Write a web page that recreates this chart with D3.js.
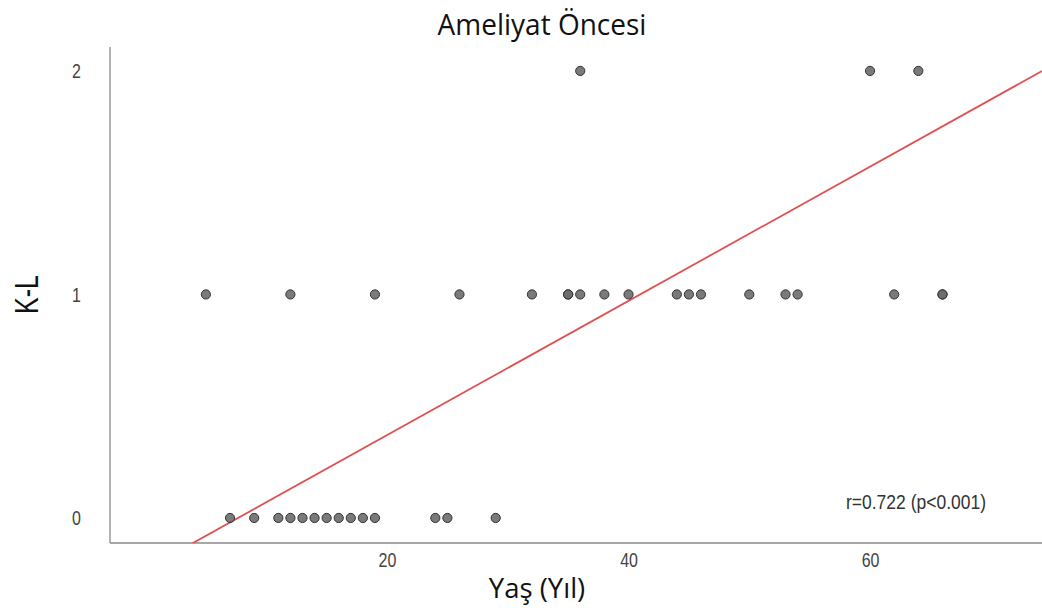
<!DOCTYPE html>
<html>
<head>
<meta charset="utf-8">
<script src="https://cdn.jsdelivr.net/npm/d3@7/dist/d3.min.js"></script>
<style>
  html, body { margin: 0; padding: 0; background: #fff; }
  svg { display: block; }
</style>
</head>
<body>
<svg id="chart" width="1042" height="610"></svg>
<script>
// Age (years) of each case, grouped by K-L grade
const ageGrade0 = [7, 9, 11, 12, 13, 14, 15, 16, 17, 18, 19, 24, 25, 29];
const ageGrade1 = [5, 12, 19, 26, 32, 35, 35, 36, 38, 40, 44, 45, 46, 50, 53, 54, 62, 66, 66];
const ageGrade2 = [36, 60, 64];
const grades = [0, 1, 2];

// Fitted line: K-L = intercept + slope * age
const fitIntercept = -0.230;
const fitSlope = 0.03003;

const xTicks = [20, 40, 60];
const yTicks = [0, 1, 2];
const annotation = "r=0.722 (p<0.001)";

const points = []
  .concat(ageGrade0.map(a => ({ age: a, kl: grades[0] })))
  .concat(ageGrade1.map(a => ({ age: a, kl: grades[1] })))
  .concat(ageGrade2.map(a => ({ age: a, kl: grades[2] })));

const svg = d3.select("#chart");
const plotLeft = 110, plotRight = 1042, plotTop = 47, plotBottom = 543;

const x = d3.scaleLinear().domain([-2.94, 74.24]).range([plotLeft, plotRight]);
const y = d3.scaleLinear().domain([-0.112, 2.107]).range([plotBottom, plotTop]);

svg.append("defs").append("clipPath").attr("id", "plotClip")
  .append("rect").attr("x", plotLeft).attr("y", plotTop)
  .attr("width", plotRight - plotLeft).attr("height", plotBottom - plotTop);

const sansNarrow = "'Liberation Sans', Arial, sans-serif";
const titleFont = "'Open Sans', Lato, sans-serif";

// Title
svg.append("text")
  .attr("transform", "translate(542,35) scale(1,1.06)")
  .attr("text-anchor", "middle")
  .style("font-family", titleFont)
  .style("font-size", "28px")
  .style("fill", "#111")
  .text("Ameliyat Öncesi");

// Axes (no tick marks, labels only)
const xAxis = d3.axisBottom(x).tickValues(xTicks).tickSize(0).tickPadding(0);
const yAxis = d3.axisLeft(y).tickValues(yTicks).tickSize(0).tickPadding(29).tickFormat(d3.format("d"));

const gx = svg.append("g").attr("transform", `translate(0,${plotBottom})`).call(xAxis);
const gy = svg.append("g").attr("transform", `translate(${plotLeft},0)`).call(yAxis);

[gx, gy].forEach(g => {
  g.select(".domain").attr("stroke", "#8a8a8a").attr("stroke-width", 1.3);
  g.selectAll(".tick text")
    .style("font-family", sansNarrow)
    .style("font-size", "16px")
    .style("fill", "#444");
});
gx.select(".domain").attr("d", `M${plotLeft},0H${plotRight}`);
gy.select(".domain").attr("d", `M0,${plotBottom}V${plotTop}`);

// tall, narrow tick digits
gx.selectAll(".tick text").attr("y", 0).attr("dy", "0.71em")
  .attr("transform", "translate(0,9) scale(1,1.3)");
gy.selectAll(".tick text").attr("transform", "scale(1,1.3)");

// Axis titles
svg.append("text")
  .attr("x", 537).attr("y", 598)
  .attr("text-anchor", "middle")
  .style("font-family", titleFont)
  .style("font-size", "27.5px")
  .style("fill", "#111")
  .text("Yaş (Yıl)");

svg.append("text")
  .attr("transform", `translate(38,${y(1)}) rotate(-90) scale(1,1.3)`)
  .attr("text-anchor", "middle")
  .style("font-family", sansNarrow)
  .style("font-size", "25px")
  .style("fill", "#111")
  .text("K-L");

// Fit line
const plot = svg.append("g").attr("clip-path", "url(#plotClip)");
const xs = x.domain();
plot.append("line")
  .attr("x1", x(xs[0])).attr("y1", y(fitIntercept + fitSlope * xs[0]))
  .attr("x2", x(xs[1])).attr("y2", y(fitIntercept + fitSlope * xs[1]))
  .attr("stroke", "#e05252")
  .attr("stroke-width", 1.8);

// Points
svg.append("g").selectAll("circle")
  .data(points)
  .join("circle")
  .attr("cx", d => x(d.age))
  .attr("cy", d => y(d.kl))
  .attr("r", 4.6)
  .attr("fill", "#6b6b6b")
  .attr("fill-opacity", 0.9)
  .attr("stroke", "#333")
  .attr("stroke-width", 1);

// Correlation note
svg.append("text")
  .attr("transform", "translate(916,509) scale(1,1.15)")
  .attr("text-anchor", "middle")
  .style("font-family", sansNarrow)
  .style("font-size", "17.5px")
  .style("fill", "#333")
  .text(annotation);
</script>
</body>
</html>
